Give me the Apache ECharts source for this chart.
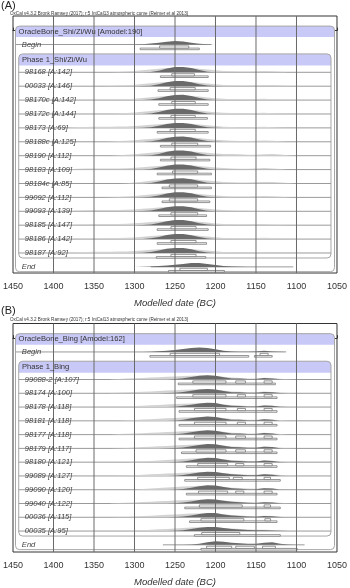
<!DOCTYPE html>
<html><head><meta charset="utf-8">
<script src="https://cdn.jsdelivr.net/npm/echarts@6.0.0/dist/echarts.min.js"></script>
<style>html,body{margin:0;padding:0;background:#fff}#c{width:350px;height:588px}</style>
</head><body><div id="c"></div>
<script>
// ---------- data ----------
const xTicks = [1450, 1400, 1350, 1300, 1250, 1200, 1150, 1100, 1050];
const gridYears = [1400, 1350, 1300, 1250, 1200, 1150, 1100];
const axisName = 'Modelled date (BC)';
const oxcalNote = 'OxCal v4.3.2 Bronk Ramsey (2017); r:5 IntCal13 atmospheric curve (Reimer et al 2013)';

// Panel A
const datesA = [1380,1370,1360,1350,1340,1330,1320,1310,1300,1290,1280,1270,1260,1250,1240,1230,1220,1210,1200,1190,1180,1170,1160,1150,1140,1130,1120,1110,1100];
const labelsA = ['OracleBone_Shi/Zi/Wu [Amodel:190]','Begin','Phase 1_Shi/Zi/Wu','98168 [A:142]','00033 [A:146]','98170c [A:142]','98172c [A:144]','98173 [A:69]','98188c [A:125]','98190 [A:112]','98183 [A:109]','98184c [A:85]','99092 [A:112]','99093 [A:139]','98185 [A:147]','98186 [A:142]','98187 [A:92]','End'];
const kindsA = ['seq','bound','phase','date','date','date','date','date','date','date','date','date','date','date','date','date','date','bound'];
const postA = [
 null,
 [0,0,0,0,0,0,0,0,0,0.3,1.0,1.8,2.8,3.6,3.0,1.8,0.8,0.3,0.1,0,0,0,0,0,0,0,0,0,0],
 null,
 [0,0,0,0,0,0,0,0,0,0.1,0.4,1.6,3.8,5.2,5.3,4.2,2.2,0.6,0.1,0,0,0,0,0,0,0,0,0,0],
 [0,0,0,0,0,0,0,0,0,0.1,0.5,1.9,4.0,5.3,5.1,4.0,2.0,0.6,0.1,0,0,0,0,0,0,0,0,0,0],
 [0,0,0,0,0,0,0,0,0,0.1,0.5,1.8,3.9,5.2,5.3,4.1,2.1,0.6,0.1,0,0,0,0,0,0,0,0,0,0],
 [0,0,0,0,0,0,0,0,0,0.1,0.6,2.0,4.0,5.2,5.2,4.0,2.0,0.5,0.1,0,0,0,0,0,0,0,0,0,0],
 [0,0,0,0,0,0,0,0,0,0.2,0.7,2.1,4.0,5.0,5.0,4.0,2.1,0.6,0.1,0,0,0,0,0,0,0,0,0,0],
 [0,0,0,0,0,0,0,0,0,0.1,0.5,1.8,3.8,5.0,5.2,4.3,2.4,0.8,0.2,0,0,0,0,0,0,0,0,0,0],
 [0,0,0,0,0,0,0,0,0,0.1,0.5,1.8,3.9,5.1,5.2,4.2,2.3,0.7,0.2,0,0,0,0,0,0,0,0,0,0],
 [0,0,0,0,0,0,0,0,0,0.2,0.7,2.0,3.9,5.0,5.1,4.2,2.4,0.8,0.2,0,0,0,0,0,0,0,0,0,0],
 [0,0,0,0,0,0,0,0,0,0.1,0.6,1.9,3.9,5.1,5.2,4.3,2.5,0.8,0.2,0,0,0,0,0,0,0,0,0,0],
 [0,0,0,0,0,0,0,0,0,0.1,0.6,1.9,4.0,5.2,5.2,4.1,2.1,0.6,0.1,0,0,0,0,0,0,0,0,0,0],
 [0,0,0,0,0,0,0,0,0,0.2,0.8,2.2,4.1,5.1,5.0,4.0,2.0,0.6,0.1,0,0,0,0,0,0,0,0,0,0],
 [0,0,0,0,0,0,0,0,0,0.2,0.8,2.2,4.0,5.1,5.1,4.0,2.0,0.6,0.1,0,0,0,0,0,0,0,0,0,0],
 [0,0,0,0,0,0,0,0,0,0.2,0.8,2.2,4.1,5.1,5.0,3.9,2.0,0.6,0.1,0,0,0,0,0,0,0,0,0,0],
 [0,0,0,0,0,0,0,0,0,0.2,0.9,2.4,4.2,5.1,4.9,3.8,1.8,0.5,0.1,0,0,0,0,0,0,0,0,0,0],
 [0,0,0,0,0,0,0,0,0,0.1,0.3,0.8,1.5,2.2,3.0,3.8,4.0,3.0,1.8,0.8,0.3,0.1,0,0,0,0,0,0,0]
];
const likeA = [
 null, null, null,
 [0,0,0,0,0,0,0.3,0.8,1.4,2.1,2.9,3.6,4.2,4.6,4.6,4.3,3.6,2.8,2.0,1.4,1.0,0.8,0.8,1.0,1.4,1.1,0.5,0.1,0],
 [0,0,0,0,0,0.2,0.6,1.0,1.5,2.2,3.0,3.7,4.3,4.6,4.5,4.1,3.4,2.6,1.9,1.3,1.0,0.8,0.8,1.0,1.3,1.2,0.7,0.2,0],
 [0,0,0,0,0,0.2,0.5,0.9,1.4,2.1,2.9,3.6,4.2,4.6,4.6,4.2,3.5,2.7,1.9,1.3,0.9,0.7,0.8,1.0,1.3,0.9,0.4,0.1,0],
 [0,0,0,0,0,0.1,0.5,0.9,1.4,2.2,3.0,3.7,4.3,4.6,4.5,4.1,3.4,2.6,1.8,1.2,0.9,0.7,0.7,0.9,1.2,0.8,0.3,0,0],
 [0.3,0.8,1.0,1.1,1.2,1.2,1.3,1.5,1.9,2.5,3.1,3.7,4.2,4.5,4.5,4.1,3.4,2.6,1.8,1.2,0.9,0.7,0.7,0.9,1.1,0.7,0.2,0,0],
 [0,0,0,0,0,0.3,0.7,1.0,1.5,2.2,2.9,3.6,4.2,4.6,4.6,4.3,3.7,2.9,2.1,1.5,1.1,0.9,0.9,1.1,1.4,1.1,0.6,0.1,0],
 [0,0,0,0,0,0,0.4,0.9,1.5,2.2,3.0,3.7,4.3,4.6,4.6,4.3,3.7,2.9,2.2,1.8,1.6,1.4,1.0,1.0,1.5,1.6,1.2,0.5,0],
 [0.4,0.9,1.1,1.2,1.2,1.1,1.2,1.4,1.8,2.4,3.0,3.6,4.2,4.5,4.6,4.3,3.7,2.9,2.1,1.5,1.1,0.9,0.9,1.1,1.5,1.1,0.5,0.1,0],
 [0,0,0,0,0,0,0,0.3,0.9,1.8,2.7,3.5,4.2,4.6,4.6,4.4,3.8,3.0,2.2,1.6,1.2,1.0,1.0,1.2,1.6,1.6,1.1,0.5,0],
 [0,0,0,0,0,0.2,0.5,0.9,1.4,2.1,2.9,3.6,4.2,4.6,4.6,4.2,3.5,2.7,1.9,1.3,1.0,0.8,0.9,1.1,1.5,1.2,0.6,0.1,0],
 [0.4,0.9,1.1,1.2,1.2,1.2,1.3,1.5,1.9,2.5,3.1,3.7,4.2,4.5,4.5,4.1,3.4,2.6,1.8,1.2,0.8,0.6,0.5,0.4,0.2,0,0,0,0],
 [0.2,0.7,1.0,1.1,1.2,1.2,1.3,1.5,1.9,2.5,3.1,3.7,4.2,4.5,4.5,4.1,3.4,2.6,1.8,1.2,0.9,0.8,0.9,1.2,1.1,0.5,0.1,0,0],
 [0,0,0,0,0.3,0.7,1.0,1.3,1.7,2.3,3.0,3.7,4.2,4.5,4.5,4.1,3.4,2.6,1.8,1.2,0.9,0.8,0.9,1.1,1.4,1.0,0.4,0.1,0],
 [0.4,0.9,1.1,1.2,1.2,1.2,1.4,1.6,2.0,2.6,3.2,3.8,4.2,4.5,4.4,4.0,3.3,2.4,1.7,1.1,0.8,0.6,0.5,0.4,0.2,0,0,0,0],
 null
];
const r68A = [null,[[1269,1233]],null,[[1254,1226]],[[1256,1225]],[[1254,1225]],[[1255,1225]],[[1256,1225]],[[1254,1222]],[[1255,1224]],[[1253,1222]],[[1257,1222]],[[1257,1222]],[[1255,1222]],[[1255,1224]],[[1255,1224]],[[1255,1224]],[[1244,1210]]];
const r95A = [null,[[1293,1220]],null,[[1268,1209]],[[1271,1209]],[[1270,1209]],[[1270,1210]],[[1272,1209]],[[1268,1206]],[[1268,1207]],[[1272,1205]],[[1266,1205]],[[1266,1207]],[[1270,1211]],[[1272,1209]],[[1272,1211]],[[1273,1212]],[[1258,1189]]];
const spanA = [null,[1448,1205],null,[1446,1055],[1446,1055],[1446,1055],[1446,1055],[1446,1055],[1446,1055],[1446,1055],[1446,1055],[1446,1055],[1446,1055],[1446,1055],[1446,1055],[1446,1055],[1446,1055],[1280,1104]];

// Panel B
const datesB = [1330,1320,1310,1300,1290,1280,1270,1260,1250,1240,1230,1220,1210,1200,1190,1180,1170,1160,1150,1140,1130,1120,1110,1100,1090];
const labelsB = ['OracleBone_Bing [Amodel:162]','Begin','Phase 1_Bing','99088-2 [A:107]','98174 [A:100]','98178 [A:118]','98181 [A:118]','98177 [A:118]','98179 [A:117]','98180 [A:121]','99089 [A:127]','99090 [A:120]','99040 [A:122]','00036 [A:115]','00035 [A:95]','End'];
const kindsB = ['seq','bound','phase','date','date','date','date','date','date','date','date','date','date','date','date','bound'];
const postB = [
 null,
 [0,0,0,0,0,0.2,0.6,1.2,2.0,3.0,4.0,4.6,4.0,2.6,1.2,0.5,0.3,0.3,0.4,1.2,0.4,0.1,0,0,0],
 null,
 [0,0,0,0,0,0,0,0.1,0.5,1.3,2.5,3.7,4.4,3.9,2.3,1.1,1.0,0.5,0.5,1.4,1.1,0.2,0,0,0],
 [0,0,0,0,0,0,0,0.2,0.6,1.4,2.6,3.7,4.3,3.8,2.3,1.1,1.0,0.5,0.5,1.4,1.1,0.2,0,0,0],
 [0,0,0,0,0,0,0,0.1,0.4,1.2,2.4,3.6,4.4,4.0,2.4,1.2,1.0,0.5,0.6,1.5,1.2,0.2,0,0,0],
 [0,0,0,0,0,0,0,0.1,0.4,1.2,2.5,3.7,4.4,3.9,2.4,1.2,1.0,0.5,0.6,1.5,1.2,0.2,0,0,0],
 [0,0,0,0,0,0,0,0.1,0.4,1.1,2.3,3.6,4.4,4.0,2.5,1.2,1.0,0.5,0.6,1.6,1.2,0.2,0,0,0],
 [0,0,0,0,0,0,0,0.1,0.3,1.0,2.2,3.5,4.4,4.1,2.6,1.3,1.1,0.6,0.6,1.6,1.3,0.2,0,0,0],
 [0,0,0,0,0,0,0,0,0.2,0.8,2.0,3.4,4.4,4.2,2.7,1.4,1.1,0.6,0.6,1.7,1.3,0.2,0,0,0],
 [0,0,0,0,0,0,0,0,0.3,0.9,2.1,3.4,4.3,4.1,2.8,1.6,1.3,0.7,0.6,1.6,1.3,0.3,0,0,0],
 [0,0,0,0,0,0,0,0,0.2,0.8,2.0,3.4,4.4,4.2,2.7,1.4,1.1,0.6,0.6,1.6,1.3,0.2,0,0,0],
 [0,0,0,0,0,0,0,0,0.3,0.9,2.1,3.5,4.4,4.1,2.8,1.7,1.3,0.8,0.6,1.2,1.0,0.2,0,0,0],
 [0,0,0,0,0,0,0,0,0.2,0.7,1.9,3.4,4.4,4.2,2.9,1.7,1.3,0.8,0.6,1.3,1.0,0.2,0,0,0],
 [0,0,0,0,0,0,0,0,0.2,0.8,2.0,3.4,4.2,4.0,3.0,2.0,1.6,1.1,0.8,0.8,0.6,0.2,0,0,0],
 [0,0,0,0,0,0,0,0,0,0.1,0.3,1.2,2.6,3.6,3.2,2.0,1.5,1.2,1.2,2.2,2.6,1.2,0.4,0.1,0]
];
const likeB = [
 null, null, null,
 [0.3,0.6,0.9,1.2,1.5,1.9,2.3,2.7,3.1,3.5,3.8,4.0,4.0,3.6,2.7,1.9,1.6,1.1,1.0,1.7,1.4,0.7,0.2,0,0],
 [0.3,0.6,0.9,1.2,1.5,1.9,2.3,2.7,3.1,3.5,3.8,4.0,4.0,3.6,2.7,1.9,1.6,1.1,1.0,1.7,1.4,0.7,0.2,0,0],
 [0,0.3,0.6,1.0,1.4,1.8,2.2,2.6,3.0,3.4,3.7,3.9,4.0,3.7,2.8,1.9,1.6,1.1,1.0,1.7,1.4,0.6,0.2,0,0],
 [0,0.2,0.5,0.9,1.3,1.7,2.1,2.5,2.9,3.3,3.7,3.9,4.0,3.7,2.8,1.9,1.6,1.1,1.0,1.7,1.4,0.6,0.1,0,0],
 [0.2,0.5,0.8,1.1,1.4,1.8,2.2,2.6,3.0,3.4,3.7,3.9,4.0,3.7,2.8,2.0,1.7,1.2,1.0,1.8,1.5,0.7,0.2,0,0],
 [0,0.2,0.5,0.9,1.3,1.7,2.1,2.5,2.9,3.3,3.7,3.9,4.0,3.8,2.9,2.0,1.7,1.2,1.0,1.8,1.5,0.7,0.2,0,0],
 [0,0,0,0.3,0.8,1.3,1.8,2.3,2.8,3.2,3.6,3.9,4.0,3.8,2.9,2.0,1.7,1.2,1.0,1.8,1.4,0.6,0.1,0,0],
 [0,0.2,0.5,0.8,1.2,1.6,2.0,2.4,2.8,3.2,3.6,3.9,4.0,3.8,3.0,2.1,1.8,1.3,1.1,1.8,1.6,0.9,0.4,0.1,0],
 [0,0,0,0.3,0.8,1.3,1.8,2.3,2.8,3.2,3.6,3.9,4.0,3.8,2.9,2.0,1.7,1.2,1.0,1.8,1.4,0.6,0.1,0,0],
 [0.3,0.5,0.8,1.1,1.4,1.8,2.2,2.6,3.0,3.4,3.7,3.9,4.0,3.8,3.0,2.2,1.8,1.3,1.0,1.5,1.3,0.7,0.2,0,0],
 [0,0.2,0.4,0.8,1.2,1.6,2.0,2.5,2.9,3.3,3.7,3.9,4.0,3.8,3.0,2.2,1.8,1.3,1.0,1.5,1.2,0.5,0.1,0,0],
 [0,0,0,0.3,0.7,1.2,1.7,2.2,2.7,3.1,3.5,3.8,3.9,3.8,3.2,2.5,2.1,1.6,1.3,1.3,1.1,0.7,0.4,0.2,0.1],
 null
];
const r68B = [null,[[1256,1195],[1145,1135]],null,
 [[1228,1187],[1175,1163],[1140,1130]],
 [[1228,1187],[1173,1163],[1140,1130]],
 [[1226,1187],[1173,1163],[1140,1130]],
 [[1226,1187],[1173,1163],[1140,1130]],
 [[1226,1187],[1175,1163],[1140,1130]],
 [[1224,1187],[1175,1163],[1140,1130]],
 [[1222,1185],[1175,1165],[1140,1130]],
 [[1222,1183],[1178,1167],[1140,1132]],
 [[1221,1185],[1175,1165],[1140,1130]],
 [[1220,1167],[1140,1132]],
 [[1218,1165],[1139,1132]],
 [[1217,1170]],
 [[1211,1180],[1175,1152],[1142,1126]]];
const r95B = [null,[[1281,1159],[1152,1130]],null,
 [[1246,1126]],[[1248,1124]],[[1245,1124]],[[1245,1124]],[[1245,1124]],[[1242,1124]],[[1236,1124]],
 [[1238,1120]],[[1236,1124]],[[1238,1120]],[[1232,1124]],[[1226,1120]],[[1218,1099]]];
const spanB = [null,[1448,1113],null,[1446,1055],[1446,1055],[1446,1055],[1446,1055],[1446,1055],[1446,1055],[1446,1055],[1446,1055],[1446,1055],[1446,1055],[1446,1055],[1446,1055],[1265,1090]];

// ---------- style ----------
const FONT = '"Liberation Sans", Arial, sans-serif';
const BAND = '#c9c9f7', BOX = '#a6a6a6', GRIDC = '#6a6a6a', ROWL = '#9a9a9a';
const LIGHT = '#d3d3d3', DARK = '#6a6a6a', RANGE = '#787878';

function distPoly(dates, vals, X, y, k) {
  if (!vals) return null;
  let a = -1, b = -1;
  vals.forEach((v, j) => { if (v > 0) { if (a < 0) a = j; b = j; } });
  if (a < 0) return null;
  const s = Math.max(0, a - 1), e = Math.min(vals.length - 1, b + 1);
  const pts = [[X(dates[s]), y]];
  for (let j = s; j <= e; j++) pts.push([X(dates[j]), y - vals[j] * k]);
  pts.push([X(dates[e]), y]);
  return pts;
}

function makeRender(P) {
  return function (params, api) {
    const i = params.dataIndex;
    const cs = params.coordSys;
    const n = P.labels.length;
    const rowY = r => api.coord([1250, r])[1];
    const X = d => api.coord([d, 0])[0];
    const k = api.size([0, 1])[1] / 13.9;
    const y = rowY(i);
    const L = cs.x + 2.5, R = cs.x + cs.width - 2.5;
    const iL = cs.x + 5.7, iR = cs.x + cs.width - 6;
    const kind = P.kinds[i];
    const ch = [];
    if (i === 0) {
      const top = y - 4.5, bot = rowY(n - 1) + 4.8;
      ch.push({type: 'rect', z2: 1, shape: {x: L, y: top, width: R - L, height: 11, r: [4, 4, 0, 0]}, style: {fill: BAND}});
      ch.push({type: 'rect', z2: 2, shape: {x: L, y: top, width: R - L, height: bot - top, r: 4}, style: {fill: 'none', stroke: BOX, lineWidth: 1}});
      const pT = rowY(2) - 4.5, pB = rowY(n - 2) + 5;
      ch.push({type: 'rect', z2: 1, shape: {x: iL, y: pT, width: iR - iL, height: 11.5, r: [4, 4, 0, 0]}, style: {fill: BAND}});
      ch.push({type: 'rect', z2: 2, shape: {x: iL, y: pT, width: iR - iL, height: pB - pT, r: 4}, style: {fill: 'none', stroke: BOX, lineWidth: 1}});
      gridYears.forEach(d => ch.push({type: 'line', z2: 9, shape: {x1: X(d), y1: cs.y, x2: X(d), y2: cs.y + cs.height}, style: {stroke: GRIDC, lineWidth: 1}}));
    }
    const sp = P.spans[i];
    if (sp) {
      const x1 = Math.max(L, Math.min(X(sp[0]), X(sp[1])));
      const x2 = Math.min(kind === 'date' ? iR : R, Math.max(X(sp[0]), X(sp[1])));
      ch.push({type: 'line', z2: 4, shape: {x1: kind === 'date' ? Math.max(iL, x1) : x1, y1: y, x2: x2, y2: y}, style: {stroke: ROWL, lineWidth: 1}});
    }
    const lp = distPoly(P.dates, P.like[i], X, y, k);
    if (lp) ch.push({type: 'polygon', z2: 5, shape: {points: lp}, style: {fill: LIGHT}});
    const dp = distPoly(P.dates, P.post[i], X, y, k);
    if (dp) ch.push({type: 'polygon', z2: 6, shape: {points: dp}, style: {fill: DARK}});
    (P.r95[i] || []).forEach(([a, b]) => {
      ch.push({type: 'rect', z2: 7, shape: {x: X(a), y: y + 3.6, width: X(b) - X(a), height: 1.6}, style: {fill: '#fff', stroke: RANGE, lineWidth: 0.8}});
    });
    (P.r68[i] || []).forEach(([a, b]) => {
      ch.push({type: 'rect', z2: 8, shape: {x: X(a), y: y + 1.4, width: X(b) - X(a), height: 2.2}, style: {fill: '#fff', stroke: RANGE, lineWidth: 0.8}});
    });
    let tx, ty = y, font, fill;
    if (kind === 'seq') { tx = L + 3; ty = y + 1.2; font = 'normal 7.6px ' + FONT; fill = '#333'; }
    else if (kind === 'phase') { tx = iL + 3.3; ty = y + 1.4; font = 'normal 7.6px ' + FONT; fill = '#333'; }
    else if (kind === 'bound') { tx = L + 6.3; font = 'italic 7.6px ' + FONT; fill = '#444'; }
    else { tx = iL + 6; font = 'italic 7.6px ' + FONT; fill = '#444'; }
    ch.push({type: 'text', z2: 10, style: {text: P.labels[i], x: tx, y: ty, font: font, fill: fill, align: 'left', verticalAlign: 'middle'}});
    return {type: 'group', children: ch};
  };
}

const PA = {dates: datesA, labels: labelsA, kinds: kindsA, post: postA, like: likeA, r68: r68A, r95: r95A, spans: spanA};
const PB = {dates: datesB, labels: labelsB, kinds: kindsB, post: postB, like: likeB, r68: r68B, r95: r95B, spans: spanB};

function xAxisCfg(gi) {
  return {gridIndex: gi, type: 'value', min: 1050, max: 1450, interval: 50, inverse: true,
    axisLine: {show: true, lineStyle: {color: '#333', width: 1}},
    axisTick: {show: true, inside: true, length: 3, lineStyle: {color: '#333'}},
    minorTick: {show: true, splitNumber: 10, length: 2, lineStyle: {color: '#555'}},
    splitLine: {show: false},
    axisLabel: {fontSize: 9, color: '#333', margin: 9.5, fontFamily: FONT, showMinLabel: true, showMaxLabel: true,
      formatter: v => xTicks.indexOf(v) >= 0 ? String(v) : ''},
    name: axisName, nameLocation: 'middle', nameGap: 25,
    nameTextStyle: {fontSize: 9.5, fontStyle: 'italic', color: '#333', fontFamily: FONT}};
}
function yAxisCfg(gi, mn, mx) {
  return {gridIndex: gi, type: 'value', inverse: true, min: mn, max: mx, show: false, splitLine: {show: false}};
}

const chart = echarts.init(document.getElementById('c'));
chart.setOption({
  animation: false,
  backgroundColor: '#fff',
  title: [
    {text: '(A)', left: 1, top: 0, padding: 0, textStyle: {fontSize: 11, fontWeight: 'normal', color: '#222', fontFamily: FONT}},
    {text: oxcalNote, left: 10, top: 11.3, padding: 0, textStyle: {fontSize: 4.6, fontWeight: 'normal', color: '#333', fontFamily: FONT}},
    {text: '(B)', left: 1, top: 305.5, padding: 0, textStyle: {fontSize: 11, fontWeight: 'normal', color: '#222', fontFamily: FONT}},
    {text: oxcalNote, left: 10, top: 316.8, padding: 0, textStyle: {fontSize: 4.6, fontWeight: 'normal', color: '#333', fontFamily: FONT}}
  ],
  grid: [
    {left: 10, right: 10, top: 16, height: 257, show: true, borderColor: '#333', borderWidth: 1, backgroundColor: 'transparent'},
    {left: 10, right: 10, top: 323.5, height: 230.5, show: true, borderColor: '#333', borderWidth: 1, backgroundColor: 'transparent'}
  ],
  xAxis: [xAxisCfg(0), xAxisCfg(1)],
  yAxis: [yAxisCfg(0, -1.05, 17.44), yAxisCfg(1, -1.065, 15.52)],
  series: [
    {type: 'custom', xAxisIndex: 0, yAxisIndex: 0, clip: false, silent: true,
     data: labelsA.map((_, i) => [1250, i]), renderItem: makeRender(PA)},
    {type: 'custom', xAxisIndex: 1, yAxisIndex: 1, clip: false, silent: true,
     data: labelsB.map((_, i) => [1250, i]), renderItem: makeRender(PB)}
  ]
});
</script>
</body></html>
